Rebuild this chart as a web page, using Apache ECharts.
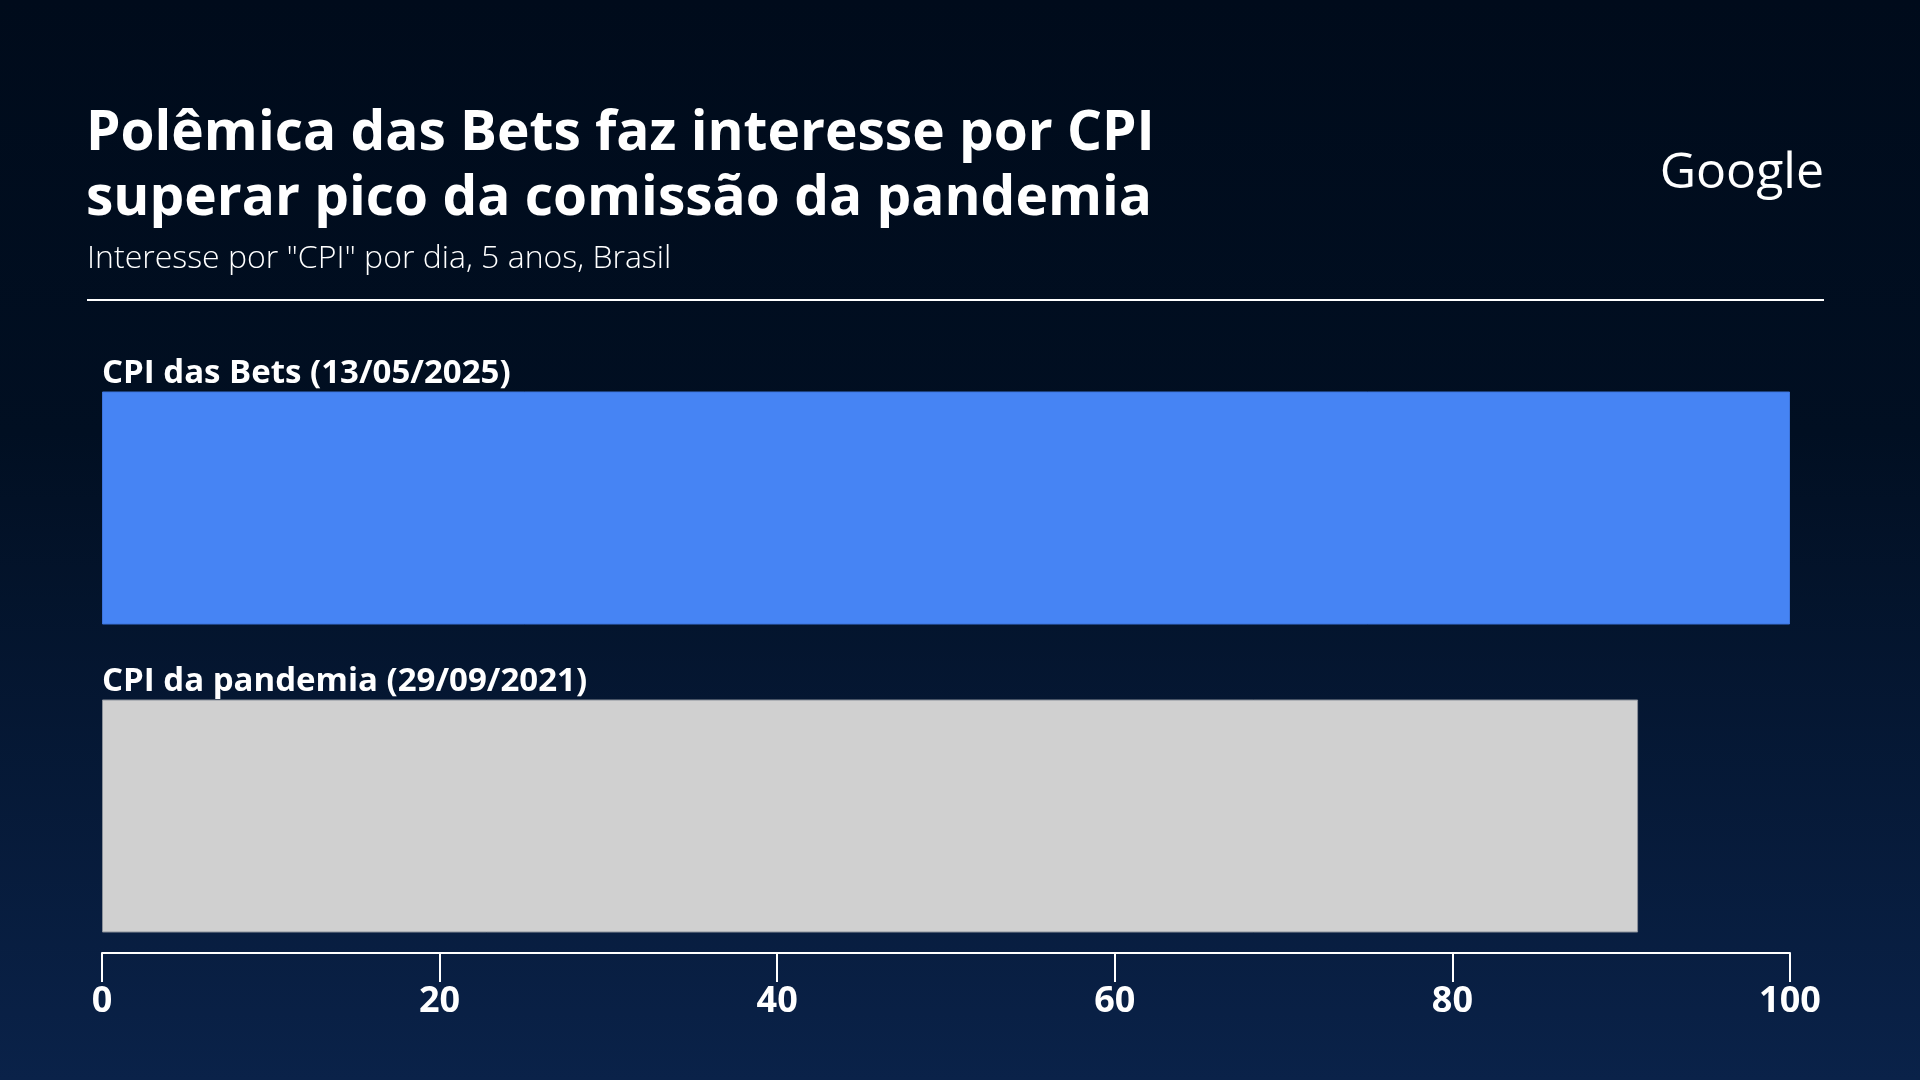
<!DOCTYPE html>
<html><head><meta charset="utf-8">
<script src="https://cdn.jsdelivr.net/npm/echarts@6/dist/echarts.min.js"></script>
<style>html,body{margin:0;padding:0;width:1920px;height:1080px;overflow:hidden;background:#000c1c}#c{width:1920px;height:1080px}</style>
</head><body><div id="c"></div>
<script>
const categories = ['CPI das Bets (13/05/2025)', 'CPI da pandemia (29/09/2021)'];
const values = [100, 91];
const barColors = ['#4684f4', '#d0d0d0'];
const barBorders = ['#3d74dc', '#8a9099'];
const tickValues = [0, 20, 40, 60, 80, 100];
const titleText = 'Polêmica das Bets faz interesse por CPI\nsuperar pico da comissão da pandemia';
const subtitleText = 'Interesse por "CPI" por dia, 5 anos, Brasil';
const brandText = 'Google';

const chart = echarts.init(document.getElementById('c'), null, {renderer: 'canvas'});
const option = {
  backgroundColor: {
    type: 'linear', x: 0, y: 0, x2: 0, y2: 1,
    colorStops: [
      {offset: 0, color: '#000b1b'},
      {offset: 0.4, color: '#010f22'},
      {offset: 1, color: '#0a2249'}
    ]
  },
  title: [
    {
      text: titleText, left: 86, top: 102, padding: 0,
      textStyle: {color: '#ffffff', fontSize: 55, fontWeight: 'bold', fontFamily: 'Open Sans', lineHeight: 65}
    },
    {
      text: subtitleText, left: 87, top: 243, padding: 0,
      textStyle: {color: '#ffffff', fontSize: 32, fontWeight: 300, fontFamily: 'Open Sans'}
    }
  ],
  graphic: [
    {type: 'line', shape: {x1: 87, y1: 300, x2: 1824, y2: 300}, style: {stroke: '#ffffff', lineWidth: 2}},
    {type: 'text', right: 96, top: 149, style: {text: brandText, fill: '#ffffff', font: '400 50px "Open Sans"'}}
  ],
  grid: {left: 102, width: 1688, top: 354, height: 616},
  xAxis: {
    type: 'value', min: 0, max: 100, interval: 20, offset: -17,
    axisLine: {show: true, lineStyle: {color: '#ffffff', width: 2}},
    axisTick: {show: true, length: 29, lineStyle: {color: '#ffffff', width: 2}},
    splitLine: {show: false},
    axisLabel: {
      color: '#ffffff', fontSize: 36, fontWeight: 'bold', fontFamily: 'Open Sans', margin: 31,
      customValues: tickValues
    }
  },
  yAxis: {
    type: 'category', data: categories, inverse: true,
    axisLine: {show: false}, axisTick: {show: false}, axisLabel: {show: false}, splitLine: {show: false}
  },
  series: [{
    type: 'bar',
    barWidth: 233,
    data: values.map((v, i) => ({value: v, itemStyle: {color: barColors[i], borderColor: barBorders[i], borderWidth: 1}})),
    label: {
      show: true, position: [0, -1], align: 'left', verticalAlign: 'bottom',
      color: '#ffffff', fontSize: 33, fontWeight: 'bold', fontFamily: 'Open Sans',
      formatter: p => categories[p.dataIndex]
    },
    silent: true
  }]
};
chart.setOption(option);
</script></body></html>
